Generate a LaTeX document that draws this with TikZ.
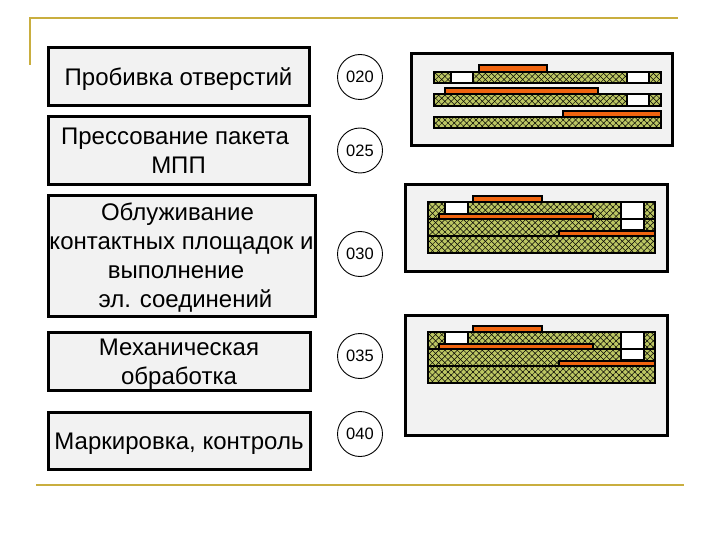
\documentclass[tikz,border=0pt]{standalone}
\usepackage{fontspec}
\setmainfont{Liberation Sans}
\usetikzlibrary{patterns.meta}
\definecolor{panelgray}{HTML}{F2F2F2}
\definecolor{ruleline}{HTML}{C9AE3F}
\definecolor{boardgreen}{HTML}{BCC663}
\definecolor{copper}{HTML}{F0640F}
\begin{document}
\begin{tikzpicture}[
  x=1pt, y=-1pt,
  opbox/.style={draw, line width=3pt, fill=panelgray, align=center, inner sep=0pt, font=\fontsize{24}{29}\selectfont},
  opnum/.style={draw, circle, line width=0.9pt, minimum size=45pt, inner sep=0pt, font=\fontsize{16.5}{18}\selectfont},
  panel/.style={draw, line width=3pt, fill=panelgray},
  board/.style={draw, line width=1.5pt, preaction={fill=boardgreen}, pattern={Lines[angle=45,distance=4.4pt,line width=0.5pt]}, postaction={pattern={Lines[angle=-45,distance=4.4pt,line width=0.5pt]}}},
  hole/.style={draw, line width=1.5pt, fill=white},
  foil/.style={draw, line width=1.5pt, fill=copper},
  rule/.style={ruleline, line width=1.5pt}
]
\useasboundingbox (0,0) rectangle (720,540);

% Frame lines
\draw[rule] (30,65) -- (30,18) -- (678,18);
\draw[rule] (36,485) -- (684,485);

% Operations
\node[opbox, minimum width=261pt, minimum height=58pt] (punch) at (178.5,77) {\rule{0pt}{22pt}Пробивка отверстий};
\node[opbox, minimum width=261pt, minimum height=68pt] (press) at (178.5,151) {\hspace*{-7pt}Прессование пакета\\МПП};
\node[opbox, minimum width=267pt, minimum height=120pt] (tin) at (181.5,256) {\rule{0pt}{21pt}\hspace*{-8pt}Облуживание\\контактных площадок и\\\hspace*{-11pt}выполнение\\\hspace*{8pt}эл. соединений};
\node[opbox, minimum width=262pt, minimum height=58pt] (mill) at (179,361) {\rule{0pt}{23pt}Механическая\\обработка};
\node[opbox, minimum width=262pt, minimum height=57pt] (mark) at (179,440.5) {\rule{0pt}{23pt}Маркировка, контроль};

% Numbers
\node[opnum] (n020) at (360,77) {020};
\node[opnum] (n025) at (360,150.5) {025};
\node[opnum] (n030) at (360,254) {030};
\node[opnum] (n035) at (360,356) {035};
\node[opnum] (n040) at (360,434) {040};

% Separate layers
\draw[panel] (411,54) rectangle (672,146);
\draw[board] (434,72) rectangle (661,83);
\draw[hole] (451,72) rectangle (473,83);
\draw[hole] (627,72) rectangle (649,83);
\draw[foil] (479,65) rectangle (547,72);
\draw[board] (434,94) rectangle (661,106);
\draw[hole] (627,94) rectangle (649,106);
\draw[foil] (445,88) rectangle (598,94);
\draw[board] (434,117) rectangle (661,128);
\draw[foil] (563,111) rectangle (661,117);

% Pressed stacks
\draw[panel] (405,185) rectangle (667,271);
\draw[panel] (405,315) rectangle (667,435);
\foreach \dy in {0,130} {
  \draw[board] (428,202+\dy) rectangle (655,219+\dy);
  \draw[board] (428,219+\dy) rectangle (655,236+\dy);
  \draw[board] (428,236+\dy) rectangle (655,253+\dy);
  \draw[hole] (445,202+\dy) rectangle (468,214+\dy);
  \draw[hole] (621,202+\dy) rectangle (644,219+\dy);
  \draw[hole] (621,219+\dy) rectangle (644,230+\dy);
  \draw[foil] (473,196+\dy) rectangle (542,202+\dy);
  \draw[foil] (439,214+\dy) rectangle (593,219+\dy);
  \draw[foil] (559,231+\dy) rectangle (655,236+\dy);
}
\end{tikzpicture}
\end{document}
